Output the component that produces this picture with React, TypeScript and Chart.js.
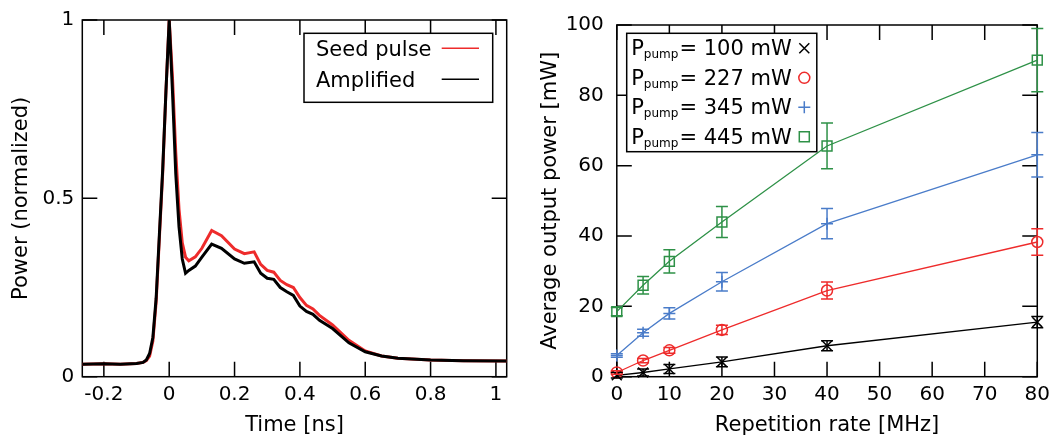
import React, { useEffect, useRef } from 'react';
import { Chart, registerables } from 'chart.js';

Chart.register(...registerables);

const FONT = '"DejaVu Sans", "Liberation Sans", sans-serif';

// ---------- Left panel: pulse shapes ----------
const timeNs = [
  -0.266, -0.2, -0.15, -0.1, -0.08, -0.07, -0.06, -0.05, -0.04, -0.03, -0.02, -0.01,
  0, 0.01, 0.02, 0.03, 0.04, 0.05, 0.06, 0.08, 0.1, 0.13, 0.16, 0.2, 0.23, 0.26, 0.28,
  0.3, 0.32, 0.34, 0.36, 0.38, 0.4, 0.42, 0.44, 0.46, 0.5, 0.55, 0.6, 0.65, 0.7, 0.8,
  0.9, 1.033,
];
const seedPulse = [
  0.035, 0.036, 0.035, 0.037, 0.04, 0.045, 0.058, 0.1, 0.21, 0.39, 0.57, 0.8,
  1.0, 0.84, 0.63, 0.47, 0.375, 0.335, 0.325, 0.336, 0.36, 0.41, 0.395, 0.358, 0.345, 0.35, 0.315,
  0.298, 0.293, 0.27, 0.258, 0.25, 0.222, 0.2, 0.19, 0.172, 0.145, 0.102, 0.072, 0.058, 0.052, 0.047,
  0.045, 0.044,
];
const amplifiedPulse = [
  0.035, 0.036, 0.035, 0.037, 0.04, 0.047, 0.065, 0.11, 0.22, 0.4, 0.58, 0.8,
  1.0, 0.8, 0.57, 0.42, 0.33, 0.29, 0.298, 0.31, 0.335, 0.372, 0.36, 0.33, 0.318, 0.322, 0.29,
  0.276, 0.273, 0.25, 0.238, 0.228, 0.198, 0.183, 0.175, 0.158, 0.135, 0.095, 0.07, 0.058, 0.052, 0.047,
  0.045, 0.044,
];
const pulseSeriesNames = ['Seed pulse', 'Amplified'];
const pulseColors = ['#ee2b2b', '#000000'];
const pulseXTicks = [-0.2, 0, 0.2, 0.4, 0.6, 0.8, 1];
const pulseXTickLabels = ['-0.2', '0', '0.2', '0.4', '0.6', '0.8', '1'];
const pulseYTicks = [0, 0.5, 1];
const pulseYTickLabels = ['0', '0.5', '1'];

// ---------- Right panel: output power ----------
const repRateMHz = [0, 5, 10, 20, 40, 80];
const pumpPowersMw = [100, 227, 345, 445];
const power100 = [0.4, 1.2, 2.2, 4.2, 8.8, 15.5];
const power227 = [1.2, 4.6, 7.5, 13.3, 24.5, 38.3];
const power345 = [6.0, 12.5, 18.0, 27.0, 43.5, 63.1];
const power445 = [18.5, 26.0, 32.8, 44.0, 65.6, 90.0];
const err100 = [0.8, 1.0, 1.3, 1.4, 1.4, 1.6];
const err227 = [0.5, 0.6, 0.8, 1.3, 2.4, 3.8];
const err345 = [0.5, 1.0, 1.6, 2.6, 4.3, 6.3];
const err445 = [1.2, 2.5, 3.3, 4.4, 6.5, 9.0];
const powerSeries = [power100, power227, power345, power445];
const powerErrors = [err100, err227, err345, err445];
const powerColors = ['#000000', '#ee2b2b', '#4a7cc9', '#2e9147'];
const powerMarkers = ['crossRot', 'circle', 'cross', 'rect'];
const powerMarkerRadius = [7, 5.5, 6, 7];
const rateTicks = [0, 10, 20, 30, 40, 50, 60, 70, 80];
const powerTicks = [0, 20, 40, 60, 80, 100];

const TICK_FONT = { family: FONT, size: 20 };
const TITLE_FONT = { family: FONT, size: 21, lineHeight: 1 };

function frameTicksPlugin(len: number) {
  return {
    id: 'frameTicks',
    beforeDatasetsDraw(chart: any) {
      const { ctx, chartArea: a, scales } = chart;
      ctx.save();
      ctx.strokeStyle = '#000';
      ctx.lineWidth = 1.5;
      ctx.beginPath();
      scales.x.ticks.forEach((t: any) => {
        const px = scales.x.getPixelForValue(t.value);
        ctx.moveTo(px, a.bottom);
        ctx.lineTo(px, a.bottom - len);
        ctx.moveTo(px, a.top);
        ctx.lineTo(px, a.top + len);
      });
      scales.y.ticks.forEach((t: any) => {
        const py = scales.y.getPixelForValue(t.value);
        ctx.moveTo(a.left, py);
        ctx.lineTo(a.left + len, py);
        ctx.moveTo(a.right, py);
        ctx.lineTo(a.right - len, py);
      });
      ctx.stroke();
      ctx.strokeRect(a.left, a.top, a.right - a.left, a.bottom - a.top);
      ctx.restore();
    },
  };
}

const pulseLegendPlugin = {
  id: 'pulseLegend',
  afterDatasetsDraw(chart: any) {
    const ctx = chart.ctx;
    ctx.save();
    ctx.fillStyle = '#fff';
    ctx.fillRect(304, 33.3, 188.7, 69);
    ctx.strokeStyle = '#000';
    ctx.lineWidth = 1.5;
    ctx.strokeRect(304, 33.3, 188.7, 69);
    ctx.font = `21px ${FONT}`;
    ctx.textAlign = 'left';
    ctx.textBaseline = 'alphabetic';
    pulseSeriesNames.forEach((name, i) => {
      const base = 56 + i * 31;
      ctx.fillStyle = '#000';
      ctx.fillText(name, 316, base);
      ctx.strokeStyle = pulseColors[i];
      ctx.lineWidth = 1.5;
      ctx.beginPath();
      ctx.moveTo(441.7, base - 7.7);
      ctx.lineTo(479, base - 7.7);
      ctx.stroke();
    });
    ctx.restore();
  },
};

function drawMarker(ctx: CanvasRenderingContext2D, style: string, x: number, y: number, color: string) {
  ctx.save();
  ctx.strokeStyle = color;
  ctx.lineWidth = 1.5;
  ctx.beginPath();
  if (style === 'crossRot') {
    ctx.moveTo(x - 5, y - 5); ctx.lineTo(x + 5, y + 5);
    ctx.moveTo(x - 5, y + 5); ctx.lineTo(x + 5, y - 5);
  } else if (style === 'circle') {
    ctx.arc(x, y, 5.5, 0, Math.PI * 2);
  } else if (style === 'cross') {
    ctx.moveTo(x - 6, y); ctx.lineTo(x + 6, y);
    ctx.moveTo(x, y - 6); ctx.lineTo(x, y + 6);
  } else {
    ctx.rect(x - 5, y - 5, 10, 10);
  }
  ctx.stroke();
  ctx.restore();
}

const errorBarsPlugin = {
  id: 'errorBars',
  afterDatasetsDraw(chart: any) {
    const { ctx, scales } = chart;
    ctx.save();
    ctx.lineWidth = 1.5;
    powerSeries.forEach((series, i) => {
      ctx.strokeStyle = powerColors[i];
      ctx.beginPath();
      series.forEach((v, j) => {
        const x = scales.x.getPixelForValue(repRateMHz[j]);
        const yTop = scales.y.getPixelForValue(v + powerErrors[i][j]);
        const yBot = scales.y.getPixelForValue(v - powerErrors[i][j]);
        ctx.moveTo(x, yTop); ctx.lineTo(x, yBot);
        ctx.moveTo(x - 6, yTop); ctx.lineTo(x + 6, yTop);
        ctx.moveTo(x - 6, yBot); ctx.lineTo(x + 6, yBot);
      });
      ctx.stroke();
    });
    ctx.restore();
  },
};

const powerLegendPlugin = {
  id: 'powerLegend',
  afterDatasetsDraw(chart: any) {
    const ctx = chart.ctx;
    ctx.save();
    ctx.fillStyle = '#fff';
    ctx.fillRect(106.7, 33.3, 190.1, 118.4);
    ctx.strokeStyle = '#000';
    ctx.lineWidth = 1.5;
    ctx.strokeRect(106.7, 33.3, 190.1, 118.4);
    ctx.textAlign = 'left';
    ctx.textBaseline = 'alphabetic';
    ctx.fillStyle = '#000';
    pumpPowersMw.forEach((p, i) => {
      const base = 55 + i * 29.5;
      let x = 111.2;
      ctx.font = `21px ${FONT}`;
      ctx.fillText('P', x, base);
      x += ctx.measureText('P').width;
      ctx.font = `12px ${FONT}`;
      ctx.fillText('pump', x, base + 3);
      x += ctx.measureText('pump').width + 1;
      ctx.font = `21px ${FONT}`;
      ctx.fillText(`= ${p} mW`, x, base);
      drawMarker(ctx, powerMarkers[i], 284.3, base - 6.7, powerColors[i]);
    });
    ctx.restore();
  },
};

function setTicks(values: number[]) {
  return (scale: any) => {
    scale.ticks = values.map((v) => ({ value: v }));
  };
}

function pulseConfig(): any {
  return {
    type: 'scatter',
    data: {
      datasets: [
        {
          label: pulseSeriesNames[1],
          data: timeNs.map((t, i) => ({ x: t, y: amplifiedPulse[i] })),
          borderColor: pulseColors[1],
          borderWidth: 3,
          showLine: true,
          pointRadius: 0,
          tension: 0,
        },
        {
          label: pulseSeriesNames[0],
          data: timeNs.map((t, i) => ({ x: t, y: seedPulse[i] })),
          borderColor: pulseColors[0],
          borderWidth: 3,
          showLine: true,
          pointRadius: 0,
          tension: 0,
        },
      ],
    },
    options: {
      animation: false,
      responsive: false,
      events: [],
      layout: { padding: { top: 19, right: 13.3, left: 0, bottom: 0 } },
      plugins: { legend: { display: false }, tooltip: { enabled: false } },
      scales: {
        x: {
          type: 'linear',
          min: -0.266,
          max: 1.033,
          afterBuildTicks: setTicks(pulseXTicks),
          afterFit: (s: any) => { s.height = 59.3; },
          grid: { display: false, drawTicks: false },
          border: { display: false },
          ticks: {
            autoSkip: false,
            maxRotation: 0,
            padding: 6,
            color: '#000',
            font: TICK_FONT,
            callback: (_v: any, i: number) => pulseXTickLabels[i],
          },
          title: { display: true, text: 'Time [ns]', color: '#000', font: TITLE_FONT, padding: { top: 0, bottom: 0 } },
        },
        y: {
          type: 'linear',
          min: 0,
          max: 1,
          afterBuildTicks: setTicks(pulseYTicks),
          afterFit: (s: any) => { s.width = 82.3; },
          grid: { display: false, drawTicks: false },
          border: { display: false },
          ticks: {
            autoSkip: false,
            padding: 8,
            color: '#000',
            font: TICK_FONT,
            callback: (_v: any, i: number) => pulseYTickLabels[i],
          },
          title: { display: true, text: 'Power (normalized)', color: '#000', font: TITLE_FONT, padding: { top: 11, bottom: 0 } },
        },
      },
    },
    plugins: [frameTicksPlugin(15), pulseLegendPlugin],
  };
}

function powerConfig(): any {
  return {
    type: 'scatter',
    data: {
      datasets: powerSeries.map((series, i) => ({
        label: `P_pump= ${pumpPowersMw[i]} mW`,
        data: series.map((v, j) => ({ x: repRateMHz[j], y: v })),
        borderColor: powerColors[i],
        borderWidth: 1.3,
        showLine: true,
        tension: 0,
        clip: false,
        pointStyle: powerMarkers[i],
        pointRadius: powerMarkerRadius[i],
        pointBorderColor: powerColors[i],
        pointBackgroundColor: 'rgba(0,0,0,0)',
        pointBorderWidth: 1.5,
      })),
    },
    options: {
      animation: false,
      responsive: false,
      events: [],
      layout: { padding: { top: 18.3, right: 14.6, left: 0, bottom: 0 } },
      plugins: { legend: { display: false }, tooltip: { enabled: false } },
      scales: {
        x: {
          type: 'linear',
          min: 0,
          max: 80,
          afterBuildTicks: setTicks(rateTicks),
          afterFit: (s: any) => { s.height = 59.3; },
          grid: { display: false, drawTicks: false },
          border: { display: false },
          ticks: {
            autoSkip: false,
            maxRotation: 0,
            padding: 6,
            color: '#000',
            font: TICK_FONT,
            callback: (v: any) => String(v),
          },
          title: { display: true, text: 'Repetition rate [MHz]', color: '#000', font: TITLE_FONT, padding: { top: 0, bottom: 0 } },
        },
        y: {
          type: 'linear',
          min: 0,
          max: 100,
          afterBuildTicks: setTicks(powerTicks),
          afterFit: (s: any) => { s.width = 96.8; },
          grid: { display: false, drawTicks: false },
          border: { display: false },
          ticks: {
            autoSkip: false,
            padding: 13,
            color: '#000',
            font: TICK_FONT,
            callback: (v: any) => String(v),
          },
          title: { display: true, text: 'Average output power [mW]', color: '#000', font: TITLE_FONT, padding: { top: 20, bottom: 0 } },
        },
      },
    },
    plugins: [frameTicksPlugin(15), errorBarsPlugin, powerLegendPlugin],
  };
}

export default function App() {
  const leftRef = useRef<HTMLCanvasElement>(null);
  const rightRef = useRef<HTMLCanvasElement>(null);

  useEffect(() => {
    const c1 = new Chart(leftRef.current as HTMLCanvasElement, pulseConfig());
    const c2 = new Chart(rightRef.current as HTMLCanvasElement, powerConfig());
    return () => {
      c1.destroy();
      c2.destroy();
    };
  }, []);

  return (
    <div style={{ position: 'fixed', left: 0, top: 0, width: 1056, height: 436, background: '#fff' }}>
      <div style={{ position: 'absolute', left: 0, top: 0, width: 520, height: 436 }}>
        <canvas ref={leftRef} width={520} height={436} style={{ display: 'block', width: 520, height: 436 }} />
      </div>
      <div style={{ position: 'absolute', left: 520, top: 0, width: 536, height: 436 }}>
        <canvas ref={rightRef} width={536} height={436} style={{ display: 'block', width: 536, height: 436 }} />
      </div>
    </div>
  );
}
